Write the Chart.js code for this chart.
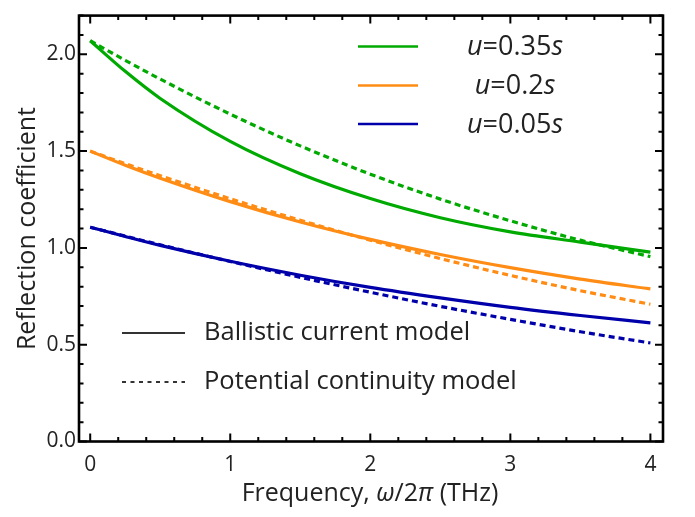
<!DOCTYPE html>
<html>
<head>
<meta charset="utf-8">
<script src="https://cdn.jsdelivr.net/npm/chart.js@4.4.0/dist/chart.umd.min.js"></script>
<style>
  html, body { margin: 0; padding: 0; background: #fff; }
  #wrap { width: 695px; height: 517px; }
</style>
</head>
<body>
<div id="wrap"><canvas id="reflChart"></canvas></div>
<script>
// frequency (THz)
const freq = [0, 0.25, 0.5, 1, 1.5, 2, 2.5, 3, 3.5, 4];

// ballistic current model (solid)
const ballistic035 = [2.07, 1.912, 1.772, 1.55, 1.383, 1.255, 1.156, 1.083, 1.03, 0.978];
const ballistic020 = [1.50, 1.427, 1.360, 1.239, 1.134, 1.044, 0.966, 0.898, 0.839, 0.788];
const ballistic005 = [1.107, 1.059, 1.013, 0.931, 0.859, 0.796, 0.742, 0.693, 0.651, 0.613];

// potential continuity model (dashed)
const potential035 = [2.07, 1.969, 1.872, 1.691, 1.527, 1.381, 1.252, 1.14, 1.04, 0.955];
const potential020 = [1.50, 1.435, 1.373, 1.254, 1.143, 1.04, 0.945, 0.858, 0.779, 0.709];
const potential005 = [1.107, 1.061, 1.016, 0.930, 0.848, 0.771, 0.698, 0.631, 0.567, 0.509];

const yTicks = [0, 0.5, 1.0, 1.5, 2.0];
const xTicks = [0, 1, 2, 3, 4];

const green = 'rgb(0,170,0)';
const orange = 'rgb(255,140,20)';
const blue = 'rgb(0,0,170)';
const textColor = '#222';
const fontName = "'Open Sans', sans-serif";

function pts(ys) {
  return freq.map((f, i) => ({ x: f, y: ys[i] }));
}

function line(ys, color, dashed) {
  return {
    data: pts(ys),
    borderColor: color,
    backgroundColor: color,
    borderWidth: 3.2,
    borderDash: dashed ? [6, 4] : [],
    pointRadius: 0,
    cubicInterpolationMode: 'monotone',
    fill: false
  };
}

// box with inward ticks on all four sides
const frameTicks = {
  id: 'frameTicks',
  afterDatasetsDraw(chart) {
    const ctx = chart.ctx;
    const a = chart.chartArea;
    const xs = chart.scales.x, ys = chart.scales.y;
    ctx.save();
    ctx.strokeStyle = '#000';
    ctx.lineWidth = 2;
    for (let k = 0; k <= 22; k++) {
      const p = ys.getPixelForValue(k / 10);
      const len = (k % 5 === 0) ? 8 : 4.5;
      ctx.beginPath();
      ctx.moveTo(a.left, p); ctx.lineTo(a.left + len, p);
      ctx.moveTo(a.right, p); ctx.lineTo(a.right - len, p);
      ctx.stroke();
    }
    for (let k = 0; k <= 20; k++) {
      const p = xs.getPixelForValue(k / 5);
      const len = (k % 5 === 0) ? 8 : 4.5;
      ctx.beginPath();
      ctx.moveTo(p, a.bottom); ctx.lineTo(p, a.bottom - len);
      ctx.moveTo(p, a.top); ctx.lineTo(p, a.top + len);
      ctx.stroke();
    }
    ctx.lineWidth = 2.6;
    ctx.strokeRect(a.left, a.top, a.right - a.left, a.bottom - a.top);
    ctx.restore();
  }
};

function drawRich(ctx, parts, cx, cy, size) {
  let w = 0;
  parts.forEach(p => {
    ctx.font = (p.i ? 'italic ' : '') + size + 'px ' + fontName;
    p.w = ctx.measureText(p.t).width;
    w += p.w;
  });
  let x = cx - w / 2;
  ctx.textBaseline = 'middle';
  ctx.textAlign = 'left';
  parts.forEach(p => {
    ctx.font = (p.i ? 'italic ' : '') + size + 'px ' + fontName;
    ctx.fillText(p.t, x, cy);
    x += p.w;
  });
}

// legends and x-axis title (mixed italic text)
const annotations = {
  id: 'annotations',
  afterDraw(chart) {
    const ctx = chart.ctx;
    ctx.save();
    ctx.fillStyle = textColor;

    // colour legend
    const colorItems = [
      { c: green, v: '=0.35', y: 46.5 },
      { c: orange, v: '=0.2', y: 85.5 },
      { c: blue, v: '=0.05', y: 124 }
    ];
    colorItems.forEach(it => {
      ctx.strokeStyle = it.c;
      ctx.lineWidth = 2.5;
      ctx.setLineDash([]);
      ctx.beginPath();
      ctx.moveTo(358, it.y); ctx.lineTo(418, it.y);
      ctx.stroke();
      drawRich(ctx, [{ t: 'u', i: true }, { t: it.v }, { t: 's', i: true }], 515, it.y + 1, 27);
    });

    // line style legend
    ctx.strokeStyle = '#333';
    ctx.lineWidth = 2;
    ctx.setLineDash([]);
    ctx.beginPath(); ctx.moveTo(122, 333); ctx.lineTo(185, 333); ctx.stroke();
    ctx.setLineDash([4, 4.5]);
    ctx.beginPath(); ctx.moveTo(122, 382); ctx.lineTo(185, 382); ctx.stroke();
    ctx.setLineDash([]);
    ctx.font = '25.5px ' + fontName;
    ctx.textAlign = 'left';
    ctx.textBaseline = 'middle';
    ctx.fillText('Ballistic current model', 204, 333);
    ctx.fillText('Potential continuity model', 204, 382);

    // x title
    drawRich(ctx, [
      { t: 'Frequency, ' }, { t: 'ω', i: true }, { t: '/2' }, { t: 'π', i: true }, { t: ' (THz)' }
    ], 370, 494, 25);
    ctx.restore();
  }
};

const ctx = document.getElementById('reflChart');
new Chart(ctx, {
  type: 'line',
  data: {
    datasets: [
      line(ballistic005, blue, false),
      line(potential005, blue, true),
      line(ballistic020, orange, false),
      line(potential020, orange, true),
      line(ballistic035, green, false),
      line(potential035, green, true)
    ]
  },
  options: {
    responsive: true,
    maintainAspectRatio: false,
    animation: false,
    layout: { padding: { top: 3.5, right: 32, left: 0, bottom: 0 } },
    plugins: { legend: { display: false }, tooltip: { enabled: false } },
    scales: {
      x: {
        type: 'linear',
        min: -0.08,
        max: 4.09,
        grid: { display: false, drawTicks: false },
        border: { display: false },
        afterBuildTicks(scale) { scale.ticks = xTicks.map(v => ({ value: v })); },
        afterFit(scale) { scale.height = 75.5; },
        ticks: {
          color: textColor,
          font: { family: fontName, size: 21 },
          padding: 11,
          callback: v => String(v)
        }
      },
      y: {
        type: 'linear',
        min: 0,
        max: 2.2,
        grid: { display: false, drawTicks: false },
        border: { display: false },
        afterBuildTicks(scale) { scale.ticks = yTicks.map(v => ({ value: v })); },
        afterFit(scale) { scale.width = 79; },
        ticks: {
          color: textColor,
          font: { family: fontName, size: 21 },
          padding: 3,
          callback: v => Number(v).toFixed(1)
        },
        title: {
          display: true,
          text: 'Reflection coefficient',
          color: textColor,
          font: { family: fontName, size: 25 },
          padding: { top: 13, bottom: 0 }
        }
      }
    }
  },
  plugins: [frameTicks, annotations]
});
</script>
</body>
</html>
